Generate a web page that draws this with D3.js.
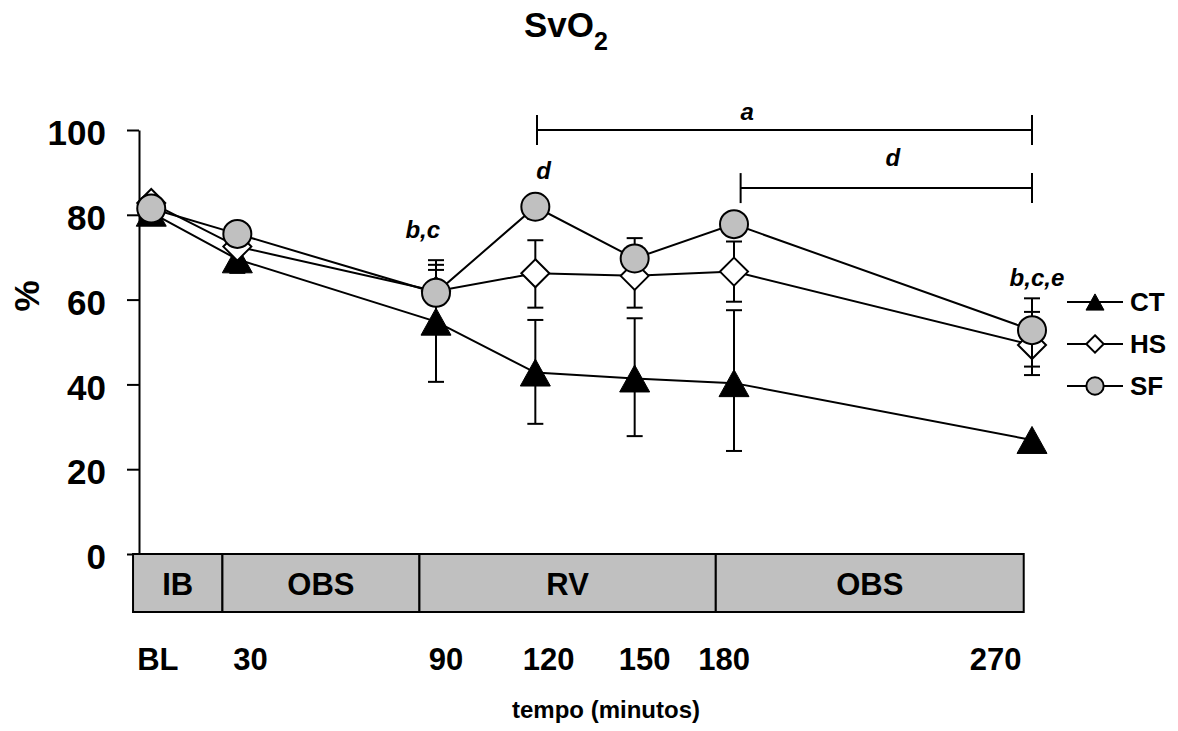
<!DOCTYPE html>
<html lang="pt">
<head>
    <meta charset="UTF-8">
    <title>SvO2</title>
    <script src="https://d3js.org/d3.v7.min.js"></script>
    <style>
        body { margin: 0; background: #fff; }
        svg text { font-family: "Liberation Sans", Arial, sans-serif; font-weight: bold; fill: #000; }
    </style>
</head>
<body>
<svg width="1178" height="731"></svg>
<script>
    // time points (minutes) - BL sits just right of the axis
    const times = [4, 30, 90, 120, 150, 180, 270];
    const tickLabels = ['BL', '30', '90', '120', '150', '180', '270'];
    const tickLabelMin = [6, 34, 93, 124, 153, 177, 259];
    const yTicks = [0, 20, 40, 60, 80, 100];

    const ct = [80.5, 69.5, 54.8, 42.8, 41.4, 40.3, 26.9];
    const ctHi = [null, null, 67, 55.2, 55.6, 57.5, null];
    const ctLo = [null, 66.3, 40.6, 30.7, 27.8, 24.3, null];

    const hs = [82.8, 72.5, 62, 66.2, 65.6, 66.6, 49.3];
    const hsHi = [null, null, 68.2, 74, 72.5, 73.7, 57.1];
    const hsLo = [null, null, null, 58.1, 58.1, 59.5, 42.2];

    const sf = [81.5, 75.5, 61.6, 81.9, 69.7, 77.8, 52.8];
    const sfHi = [null, null, 69.3, null, 74.5, null, 60.3];
    const sfLo = [null, null, null, 79, null, null, 44.2];

    // phases drawn under the axis
    const phaseNames = ['IB', 'OBS', 'RV', 'OBS'];
    const phaseEdges = [-1.5, 25.5, 85, 174.5, 267.5];

    // significance brackets and letters
    const brackets = [
        {from: 120.5, to: 270, v: 100, label: 'a', lt: 184, lv: 102.3},
        {from: 182, to: 270, v: 86.3, label: 'd', lt: 228, lv: 91.5}
    ];
    const letters = [
        {t: 86, v: 74.5, text: 'b,c'},
        {t: 122.5, v: 88.5, text: 'd'},
        {t: 271.5, v: 63.3, text: 'b,c,e'}
    ];

    const svg = d3.select('svg');
    const x = d3.scaleLinear().domain([0, 270]).range([138, 1032]);
    const y = d3.scaleLinear().domain([0, 100]).range([554, 130]);

    // title
    const title = svg.append('text').attr('x', 524).attr('y', 37).style('font-size', '35px');
    title.append('tspan').text('SvO');
    title.append('tspan').attr('dy', 13).style('font-size', '25px').text('2');

    // y axis
    const yAxis = d3.axisLeft(y).tickValues(yTicks).tickSize(12).tickSizeOuter(0).tickPadding(21);
    const ga = svg.append('g').attr('transform', 'translate(139,0)').call(yAxis);
    ga.select('.domain').attr('stroke', '#000').attr('stroke-width', 2);
    ga.selectAll('.tick line').attr('stroke', '#000').attr('stroke-width', 2);
    ga.selectAll('.tick text')
        .style('font-size', '35px')
        .style('font-family', '"Liberation Sans", Arial, sans-serif')
        .style('font-weight', 'bold')
        .attr('dy', '0.42em');

    svg.append('text')
        .attr('transform', 'translate(39,296) rotate(-90)')
        .attr('text-anchor', 'middle')
        .style('font-size', '35px')
        .text('%');

    // phase bar
    const phases = phaseNames.map((n, i) => ({name: n, a: phaseEdges[i], b: phaseEdges[i + 1]}));
    const pg = svg.append('g');
    pg.selectAll('rect').data(phases).enter().append('rect')
        .attr('x', d => x(d.a)).attr('width', d => x(d.b) - x(d.a))
        .attr('y', y(0)).attr('height', 58)
        .attr('fill', '#c0c0c0').attr('stroke', '#000').attr('stroke-width', 2);
    pg.selectAll('text').data(phases).enter().append('text')
        .attr('x', d => (x(d.a) + x(d.b)) / 2).attr('y', y(0) + 41)
        .attr('text-anchor', 'middle')
        .style('font-size', '31px')
        .text(d => d.name);

    // x labels
    svg.append('g').selectAll('text').data(tickLabels).enter().append('text')
        .attr('x', (d, i) => x(tickLabelMin[i])).attr('y', 670)
        .attr('text-anchor', 'middle')
        .style('font-size', '31px')
        .text(d => d);

    svg.append('text').attr('x', 606).attr('y', 718)
        .attr('text-anchor', 'middle')
        .style('font-size', '24px')
        .text('tempo (minutos)');

    // markers
    function triPath(w, h) {
        return `M0,${-h / 2}L${w / 2},${h / 2}L${-w / 2},${h / 2}Z`;
    }
    function diaPath(w, h) {
        return `M0,${-h / 2}L${w / 2},0L0,${h / 2}L${-w / 2},0Z`;
    }
    function drawMarker(g, kind, cx, cy, s) {
        if (kind === 'tri') {
            g.append('path').attr('d', triPath(30 * s, 27 * s)).attr('transform', `translate(${cx},${cy})`)
                .attr('fill', '#000').attr('stroke', '#000').attr('stroke-width', 1);
        } else if (kind === 'dia') {
            g.append('path').attr('d', diaPath(28 * s, 28 * s)).attr('transform', `translate(${cx},${cy})`)
                .attr('fill', '#fff').attr('stroke', '#000').attr('stroke-width', 2);
        } else {
            g.append('circle').attr('cx', cx).attr('cy', cy).attr('r', 14 * s)
                .attr('fill', '#c0c0c0').attr('stroke', '#000').attr('stroke-width', 2);
        }
    }

    const series = [
        {name: 'CT', kind: 'tri', v: ct, hi: ctHi, lo: ctLo},
        {name: 'HS', kind: 'dia', v: hs, hi: hsHi, lo: hsLo},
        {name: 'SF', kind: 'cir', v: sf, hi: sfHi, lo: sfLo}
    ];

    const line = d3.line().x(d => x(d[0])).y(d => y(d[1]));

    series.forEach(s => {
        const g = svg.append('g');
        // error bars
        times.forEach((t, i) => {
            [s.hi[i], s.lo[i]].forEach(e => {
                if (e === null) return;
                g.append('line').attr('x1', x(t)).attr('x2', x(t))
                    .attr('y1', y(s.v[i])).attr('y2', y(e))
                    .attr('stroke', '#000').attr('stroke-width', 2);
                g.append('line').attr('x1', x(t) - 8).attr('x2', x(t) + 8)
                    .attr('y1', y(e)).attr('y2', y(e))
                    .attr('stroke', '#000').attr('stroke-width', 2);
            });
        });
        g.append('path').datum(times.map((t, i) => [t, s.v[i]]))
            .attr('d', line).attr('fill', 'none').attr('stroke', '#000').attr('stroke-width', 2);
        times.forEach((t, i) => drawMarker(g, s.kind, x(t), y(s.v[i]), 1));
    });

    // brackets
    brackets.forEach(b => {
        const g = svg.append('g').attr('stroke', '#000').attr('stroke-width', 2);
        g.append('line').attr('x1', x(b.from)).attr('x2', x(b.to)).attr('y1', y(b.v)).attr('y2', y(b.v));
        [b.from, b.to].forEach(t => {
            g.append('line').attr('x1', x(t)).attr('x2', x(t)).attr('y1', y(b.v) - 15).attr('y2', y(b.v) + 15);
        });
        svg.append('text').attr('x', x(b.lt)).attr('y', y(b.lv))
            .attr('text-anchor', 'middle').style('font-size', '24px').style('font-style', 'italic')
            .text(b.label);
    });
    svg.append('g').selectAll('text').data(letters).enter().append('text')
        .attr('x', d => x(d.t)).attr('y', d => y(d.v))
        .attr('text-anchor', 'middle').style('font-size', '24px').style('font-style', 'italic')
        .text(d => d.text);

    // legend
    const legY = [302, 344, 386];
    series.forEach((s, i) => {
        const g = svg.append('g');
        g.append('line').attr('x1', 1067).attr('x2', 1123).attr('y1', legY[i]).attr('y2', legY[i])
            .attr('stroke', '#000').attr('stroke-width', 2);
        drawMarker(g, s.kind, 1095, legY[i], s.kind === 'tri' ? 0.6 : 0.62);
        g.append('text').attr('x', 1130).attr('y', legY[i] + 9).style('font-size', '26px').text(s.name);
    });
</script>
</body>
</html>
